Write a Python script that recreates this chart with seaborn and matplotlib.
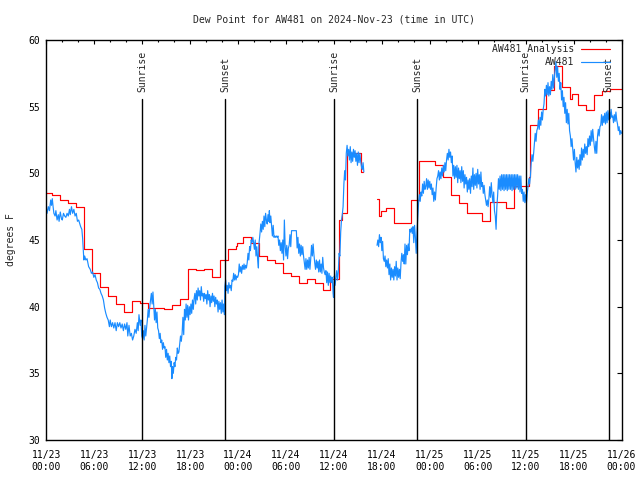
import numpy as np
import pandas as pd
import matplotlib
matplotlib.use("Agg")
import matplotlib.pyplot as plt
from matplotlib.lines import Line2D
from matplotlib.ticker import MultipleLocator
import seaborn as sns

# ---------------- data (hours since 2024-11-23 00:00 UTC) ----------------
title_text = "Dew Point for AW481 on 2024-Nov-23 (time in UTC)"
y_label = "degrees F"
series_names = ["AW481 Analysis", "AW481"]

x_tick_hours = [0, 6, 12, 18, 24, 30, 36, 42, 48, 54, 60, 66, 72]
x_tick_labels = ["11/23\n00:00", "11/23\n06:00", "11/23\n12:00", "11/23\n18:00",
                 "11/24\n00:00", "11/24\n06:00", "11/24\n12:00", "11/24\n18:00",
                 "11/25\n00:00", "11/25\n06:00", "11/25\n12:00", "11/25\n18:00",
                 "11/26\n00:00"]
y_ticks = [30, 35, 40, 45, 50, 55, 60]

sun_labels = ["Sunrise", "Sunset", "Sunrise", "Sunset", "Sunrise", "Sunset"]
sun_hours = [12.0, 22.4, 36.0, 46.4, 60.0, 70.4]

# analysis (step) series: start hour of each step and value
red_hours = [-0.3, 0.7, 1.7, 2.7, 3.7, 4.7, 5.7, 6.7, 7.7, 8.7, 9.7, 10.7, 11.7,
             12.7, 13.7, 14.7, 15.7, 16.7, 17.7, 18.7, 19.7, 20.7, 21.7, 22.7,
             23.7, 23.9, 24.6, 25.6, 26.6, 27.6, 28.6, 29.6, 30.6, 31.6, 32.6,
             33.6, 34.6, 35.5, 36.6, 37.0, 37.6, 39.4, 39.6,
             41.4, 41.6, 41.9, 42.5, 43.5, 45.7, 46.6, 48.6, 49.6, 50.6, 51.6,
             52.6, 54.6, 55.6, 57.5, 58.6, 60.4, 60.6, 61.5, 62.5, 63.6, 64.5,
             65.5, 65.8, 66.5, 67.5, 68.5, 69.5, 70.5, 72.0]
red_values = [48.5, 48.37, 48.0, 47.8, 47.5, 44.3, 42.5, 41.45, 40.8, 40.2, 39.6, 40.4, 40.25,
              39.9, 39.92, 39.8, 40.1, 40.55, 42.8, 42.75, 42.8, 42.2, 43.5, 44.3,
              44.55, 44.8, 45.2, 44.75, 43.8, 43.5, 43.3, 42.5, 42.3, 41.75, 42.1,
              41.8, 41.25, 42.05, 46.5, 47.05, 51.5, 50.1, np.nan,
              48.1, 46.8, 47.2, 47.4, 46.3, 48.0, 50.95, 50.6, 49.75, 48.4, 47.75,
              47.0, 46.45, 47.85, 47.4, 49.05, 49.75, 53.6, 54.8, 56.25, 58.05, 56.45,
              55.55, 55.95, 55.1, 54.75, 55.9, 56.2, 56.3, 56.3]

# observations (hour, dew point)
obs_day1 = [
    (0.0, 47.4), (0.1, 47.0), (0.25, 47.5), (0.4, 47.2), (0.55, 48.0), (0.65, 47.6), (0.75, 48.1),
    (0.85, 47.5), (0.95, 47.0), (1.1, 46.8), (1.2, 47.2), (1.35, 46.5), (1.5, 46.9), (1.6, 46.4),
    (1.75, 47.1), (1.9, 46.6), (2.0, 46.5), (2.15, 47.0), (2.3, 46.8), (2.45, 46.7), (2.6, 47.0),
    (2.75, 46.8), (2.9, 47.3), (3.0, 46.9), (3.15, 47.5), (3.3, 47.0), (3.45, 47.3), (3.6, 46.8),
    (3.75, 47.0), (3.9, 46.4), (4.05, 46.5), (4.2, 46.2), (4.3, 46.0), (4.45, 45.8), (4.55, 45.1),
    (4.65, 44.0), (4.7, 43.5), (4.8, 43.8), (4.95, 43.5), (5.1, 43.6), (5.3, 43.0), (5.5, 42.8),
    (5.65, 42.5), (5.8, 42.6), (5.95, 42.2), (6.1, 42.4), (6.25, 42.0), (6.4, 41.8), (6.55, 41.4),
    (6.7, 41.3), (6.85, 41.0), (7.0, 40.8), (7.15, 40.5), (7.3, 39.9), (7.45, 39.5), (7.6, 39.2),
    (7.75, 39.0), (7.9, 38.5), (8.0, 39.0), (8.15, 38.5), (8.3, 38.8), (8.45, 38.4), (8.6, 38.8),
    (8.75, 38.2), (8.9, 38.8), (9.05, 38.5), (9.2, 38.8), (9.35, 38.4), (9.5, 38.7), (9.65, 38.2),
    (9.8, 38.7), (9.95, 38.3), (10.1, 38.8), (10.2, 37.8), (10.35, 38.6), (10.5, 37.8), (10.65, 38.0),
    (10.8, 37.5), (10.95, 37.8), (11.1, 38.3), (11.25, 38.0), (11.4, 38.8), (11.5, 38.2), (11.6, 39.4),
    (11.75, 38.6), (11.85, 39.0), (11.95, 37.8),
]
obs_day1_pm = [
    (12.05, 37.6), (12.15, 38.2), (12.25, 37.5), (12.35, 38.6), (12.45, 37.8), (12.55, 38.4),
    (12.65, 39.0), (12.75, 39.8), (12.85, 39.2), (12.95, 40.0), (13.05, 40.5), (13.15, 41.0),
    (13.25, 40.2), (13.35, 41.1), (13.45, 40.0), (13.55, 39.0), (13.65, 39.8), (13.75, 38.8),
    (13.85, 39.6), (13.95, 38.4), (14.05, 38.2), (14.15, 37.6), (14.25, 38.0), (14.35, 37.3),
    (14.45, 37.5), (14.55, 36.8), (14.65, 37.3), (14.75, 36.9), (14.85, 37.0), (14.95, 36.2),
    (15.05, 36.8), (15.15, 36.0), (15.25, 36.5), (15.35, 35.8), (15.45, 36.3), (15.55, 35.5),
    (15.65, 35.9), (15.72, 34.6), (15.8, 35.5), (15.9, 35.0), (16.0, 35.8), (16.1, 35.5),
    (16.2, 36.2), (16.3, 36.0), (16.4, 36.9), (16.5, 36.5), (16.6, 36.6), (16.7, 37.2),
    (16.8, 37.8), (16.9, 37.4), (17.0, 38.0), (17.1, 39.2), (17.2, 37.9), (17.3, 39.8),
    (17.4, 39.0), (17.5, 40.2), (17.6, 39.2), (17.7, 40.1), (17.8, 39.0), (17.9, 40.0),
    (18.0, 39.4), (18.1, 40.2), (18.2, 39.5), (18.3, 40.5), (18.4, 39.8), (18.5, 40.6),
    (18.6, 41.0), (18.7, 40.2), (18.8, 41.2), (18.9, 40.5), (19.0, 41.4), (19.1, 40.8),
    (19.2, 41.2), (19.3, 40.5), (19.4, 41.5), (19.5, 40.8), (19.6, 41.0), (19.7, 40.4),
    (19.8, 41.0), (19.9, 40.6), (20.0, 40.9), (20.1, 40.2), (20.2, 41.2), (20.3, 40.5),
    (20.4, 40.9), (20.5, 40.0), (20.6, 40.8), (20.7, 40.3), (20.8, 41.0), (20.9, 40.4),
    (21.0, 40.8), (21.1, 40.0), (21.2, 40.7), (21.3, 40.2), (21.4, 40.5), (21.5, 39.6),
    (21.6, 40.4), (21.7, 39.8), (21.8, 40.3), (21.9, 39.5), (22.0, 40.5), (22.1, 39.6),
    (22.2, 40.2), (22.3, 39.4), (22.35, 41.5), (22.45, 42.0), (22.55, 41.2), (22.65, 41.6),
    (22.75, 41.0), (22.85, 41.8), (22.95, 41.4), (23.05, 41.6), (23.15, 41.2), (23.25, 42.0),
    (23.35, 41.9), (23.45, 42.5), (23.55, 42.0), (23.65, 42.4), (23.75, 42.0), (23.85, 42.3),
    (23.95, 42.2),
]
obs_day2 = [
    (24.05, 42.4), (24.15, 43.2), (24.25, 42.6), (24.35, 43.0), (24.45, 42.5), (24.55, 43.1),
    (24.65, 42.8), (24.75, 43.2), (24.85, 42.8), (24.95, 43.1), (25.05, 42.9), (25.15, 43.3),
    (25.25, 44.0), (25.35, 43.5), (25.45, 44.5), (25.55, 44.2), (25.65, 45.0), (25.75, 44.8),
    (25.85, 45.2), (25.95, 44.8), (26.05, 44.3), (26.15, 45.0), (26.25, 43.8), (26.35, 44.5),
    (26.45, 43.6), (26.55, 42.9), (26.6, 44.6), (26.75, 45.5), (26.85, 46.2), (26.95, 45.6),
    (27.05, 46.4), (27.15, 45.8), (27.25, 46.8), (27.35, 46.0), (27.45, 47.0), (27.55, 46.5),
    (27.65, 46.2), (27.75, 46.9), (27.85, 46.4), (27.92, 47.2), (28.0, 46.3), (28.1, 46.8),
    (28.2, 46.0), (28.3, 45.3), (28.4, 46.1), (28.5, 45.2), (28.6, 45.3), (28.7, 45.2),
    (28.8, 45.3), (28.9, 45.2), (29.0, 45.3), (29.1, 44.6), (29.2, 45.0), (29.3, 44.2),
    (29.4, 44.8), (29.5, 44.0), (29.6, 45.0), (29.7, 43.5), (29.8, 46.5), (29.9, 44.5),
    (30.0, 43.8), (30.1, 44.6), (30.2, 43.6), (30.3, 44.4), (30.4, 44.6), (30.5, 45.4),
    (30.6, 44.5), (30.7, 45.7), (30.9, 45.7), (31.1, 45.7), (31.3, 45.7), (31.4, 44.4),
    (31.5, 45.2), (31.6, 44.0), (31.7, 44.7), (31.8, 43.8), (31.9, 44.6), (32.0, 43.9),
    (32.1, 44.5), (32.2, 43.8), (32.3, 43.3), (32.4, 42.8), (32.5, 43.6), (32.6, 42.8),
    (32.7, 43.5), (32.8, 42.9), (32.9, 43.7), (33.0, 42.8), (33.1, 43.6), (33.2, 44.6),
    (33.3, 43.8), (33.4, 44.7), (33.5, 43.9), (33.6, 43.3), (33.7, 42.8), (33.8, 43.5),
    (33.9, 42.9), (34.0, 43.4), (34.1, 42.6), (34.2, 43.5), (34.3, 42.6), (34.4, 43.2),
    (34.5, 42.5), (34.6, 43.7), (34.7, 42.9), (34.8, 42.6), (34.9, 42.4), (35.0, 42.7),
    (35.1, 41.8), (35.2, 42.6), (35.3, 41.6), (35.4, 42.5), (35.5, 41.8), (35.6, 42.3),
    (35.7, 41.8), (35.8, 42.2), (35.9, 41.0), (35.95, 40.7), (36.05, 42.3), (36.15, 41.6),
    (36.25, 42.2), (36.35, 42.7), (36.45, 42.0), (36.55, 42.6), (36.65, 44.0), (36.75, 43.8),
    (36.85, 45.6), (36.95, 46.5), (37.05, 46.9), (37.15, 47.5), (37.25, 49.2), (37.35, 50.2),
    (37.45, 49.5), (37.55, 51.5), (37.65, 52.1), (37.75, 51.3), (37.85, 51.8), (37.95, 51.0),
    (38.05, 52.0), (38.15, 50.8), (38.25, 51.6), (38.35, 50.9), (38.45, 51.8), (38.55, 51.2),
    (38.65, 51.7), (38.75, 50.9), (38.85, 51.5), (38.95, 50.6), (39.05, 51.6), (39.15, 50.8),
    (39.25, 51.5), (39.35, 50.9), (39.45, 50.5), (39.55, 50.3), (39.65, 50.8), (39.75, 50.1),
]
obs_day2_pm = [
    (41.4, 44.6), (41.5, 45.0), (41.6, 44.5), (41.7, 45.4), (41.8, 44.8), (41.9, 45.2),
    (42.0, 44.2), (42.1, 44.9), (42.2, 43.6), (42.3, 43.4), (42.4, 43.8), (42.5, 43.0),
    (42.6, 43.5), (42.7, 42.9), (42.8, 43.6), (42.9, 42.4), (43.0, 43.2), (43.1, 42.0),
    (43.2, 42.9), (43.3, 42.2), (43.4, 42.8), (43.5, 42.0), (43.6, 43.0), (43.7, 42.3),
    (43.8, 43.4), (43.9, 42.0), (44.0, 42.9), (44.1, 42.2), (44.2, 42.8), (44.3, 42.1),
    (44.4, 43.3), (44.5, 44.0), (44.6, 43.4), (44.7, 43.9), (44.8, 43.2), (44.9, 44.7),
    (45.0, 43.2), (45.1, 44.6), (45.2, 43.9), (45.3, 44.7), (45.4, 44.2), (45.5, 45.8),
    (45.6, 45.6), (45.7, 45.9), (45.8, 45.5), (45.9, 46.0), (46.0, 44.8), (46.1, 46.1),
    (46.2, 45.2), (46.3, 44.0), (46.4, 45.6), (46.5, 46.7), (46.6, 47.8), (46.7, 48.4),
    (46.8, 47.9), (46.9, 48.6), (47.0, 48.3), (47.1, 49.2), (47.2, 48.5), (47.3, 49.4),
    (47.4, 48.8), (47.5, 49.0), (47.6, 49.6), (47.7, 48.8), (47.8, 49.5), (47.9, 48.9),
]
obs_day3 = [
    (48.0, 49.4), (48.1, 48.8), (48.2, 49.2), (48.3, 48.4), (48.4, 48.9), (48.5, 47.9),
    (48.6, 48.6), (48.7, 48.0), (48.8, 48.9), (48.9, 49.6), (49.0, 49.8), (49.1, 50.2),
    (49.2, 49.5), (49.3, 50.1), (49.4, 49.6), (49.5, 50.4), (49.6, 49.8), (49.7, 50.6),
    (49.8, 50.1), (49.9, 50.8), (50.0, 50.2), (50.1, 51.0), (50.2, 51.5), (50.3, 51.0),
    (50.4, 51.8), (50.5, 51.2), (50.6, 51.6), (50.7, 50.8), (50.8, 51.3), (50.9, 49.8),
    (51.0, 50.6), (51.1, 49.6), (51.2, 50.5), (51.3, 49.7), (51.4, 50.6), (51.5, 49.3),
    (51.6, 50.4), (51.7, 49.6), (51.8, 50.2), (51.9, 49.3), (52.0, 50.5), (52.1, 49.4),
    (52.2, 50.2), (52.3, 48.9), (52.4, 49.9), (52.5, 49.2), (52.6, 49.7), (52.7, 48.6),
    (52.8, 49.5), (52.9, 48.8), (53.0, 49.6), (53.1, 48.5), (53.2, 49.8), (53.3, 49.0),
    (53.4, 50.4), (53.5, 48.8), (53.6, 49.9), (53.7, 49.1), (53.8, 50.0), (53.9, 48.9),
    (54.0, 50.3), (54.1, 49.2), (54.2, 49.9), (54.3, 48.8), (54.4, 50.1), (54.5, 49.0),
    (54.6, 49.3), (54.7, 48.5), (54.8, 49.1), (54.9, 48.4), (55.0, 48.0), (55.1, 47.6),
    (55.2, 48.0), (55.3, 47.5), (55.4, 48.1), (55.5, 49.0), (55.6, 48.2), (55.7, 49.3),
    (55.8, 48.4), (55.9, 47.8), (56.0, 48.6), (56.1, 47.2), (56.2, 46.8), (56.3, 45.8),
    (56.4, 47.5), (56.5, 48.4), (56.6, 49.6), (56.7, 48.8), (56.8, 49.8), (56.9, 48.7),
    (57.0, 49.9), (57.1, 48.8), (57.2, 49.9), (57.3, 48.7), (57.4, 49.9), (57.5, 48.8),
    (57.6, 49.9), (57.7, 48.7), (57.8, 49.9), (57.9, 48.8), (58.0, 49.9), (58.1, 48.8),
    (58.2, 49.9), (58.3, 48.7), (58.4, 49.9), (58.5, 48.8), (58.6, 49.9), (58.7, 48.8),
    (58.8, 49.9), (58.9, 48.9), (59.0, 49.9), (59.1, 48.8), (59.2, 49.8), (59.3, 48.6),
    (59.4, 49.8), (59.5, 48.5), (59.6, 48.8), (59.7, 47.9), (59.8, 48.6), (59.9, 47.8),
    (60.0, 48.4), (60.1, 47.8), (60.2, 48.5), (60.3, 49.0), (60.4, 49.6), (60.5, 49.2),
    (60.6, 49.8), (60.7, 50.8), (60.8, 51.4), (60.9, 50.9), (61.0, 51.5), (61.1, 52.3),
    (61.2, 53.0), (61.3, 52.4), (61.4, 53.2), (61.5, 53.4), (61.6, 54.0), (61.7, 53.3),
    (61.8, 54.2), (61.9, 53.6), (62.0, 54.6), (62.1, 54.0), (62.2, 54.8), (62.3, 55.2),
    (62.4, 56.3), (62.5, 55.8), (62.6, 56.6), (62.7, 55.9), (62.8, 56.8), (62.9, 55.8),
    (63.0, 56.5), (63.1, 55.9), (63.2, 56.9), (63.3, 56.3), (63.4, 57.4), (63.5, 56.4),
    (63.6, 57.2), (63.7, 57.8), (63.8, 58.4), (63.9, 57.2), (64.0, 58.0), (64.1, 56.9),
    (64.2, 57.5), (64.3, 56.3), (64.4, 56.8), (64.5, 55.5), (64.6, 56.2), (64.7, 55.0),
    (64.8, 55.7), (64.9, 54.5), (65.0, 55.3), (65.1, 53.8), (65.2, 54.8), (65.3, 53.7),
    (65.4, 54.5), (65.5, 53.2), (65.6, 52.8), (65.7, 52.0), (65.8, 52.6), (65.9, 51.8),
    (66.0, 51.0), (66.1, 51.8), (66.2, 50.8), (66.3, 50.1), (66.4, 51.2), (66.5, 50.4),
    (66.6, 51.0), (66.7, 50.3), (66.8, 51.4), (66.9, 50.6), (67.0, 51.9), (67.1, 51.0),
    (67.2, 51.8), (67.3, 51.2), (67.4, 52.2), (67.5, 51.5), (67.6, 52.0), (67.7, 51.4),
    (67.8, 52.6), (67.9, 52.0), (68.0, 52.8), (68.1, 52.1), (68.2, 53.2), (68.3, 52.4),
    (68.4, 53.3), (68.5, 52.6), (68.6, 52.0), (68.7, 51.5), (68.8, 52.4), (68.9, 51.5),
    (69.0, 52.8), (69.1, 53.3), (69.2, 52.8), (69.3, 53.5), (69.4, 53.6), (69.5, 54.4),
    (69.6, 53.6), (69.7, 54.3), (69.8, 53.8), (69.9, 54.5), (70.0, 53.7), (70.1, 54.6),
    (70.2, 53.8), (70.3, 54.7), (70.4, 54.0), (70.5, 54.6), (70.6, 54.1), (70.7, 54.8),
    (70.8, 54.2), (70.9, 54.3), (71.0, 53.8), (71.1, 54.4), (71.2, 53.9), (71.3, 54.6),
    (71.4, 54.0), (71.5, 53.7), (71.6, 53.2), (71.7, 53.5), (71.8, 52.9), (71.9, 53.2),
    (72.0, 53.0),
]

# ---------------- build tables ----------------
red_df = pd.DataFrame({"hour": red_hours, "value": red_values})
obs_seg1 = pd.DataFrame(obs_day1 + obs_day1_pm + obs_day2, columns=["hour", "value"])
obs_seg2 = pd.DataFrame(obs_day2_pm + obs_day3, columns=["hour", "value"])

RED = "#ff0000"
BLUE = "#1a8cff"
FONT = 7
LW = 0.85

sns.set_theme(style="white")
plt.rcParams["font.family"] = ["DejaVu Sans Mono", "DejaVu Sans"]
plt.rcParams["font.size"] = FONT

fig = plt.figure(figsize=(6.4, 4.8), dpi=100)
ax = fig.add_axes([46.3 / 640, 40 / 480, (621.5 - 46.3) / 640, 400 / 480])

# analysis step line, split at the gap
gap_idx = int(np.where(red_df["value"].isna())[0][0])
first = red_df.iloc[:gap_idx]
first_ext = pd.concat([first, pd.DataFrame({"hour": [red_df["hour"].iloc[gap_idx]],
                                            "value": [first["value"].iloc[-1]]})])
second = red_df.iloc[gap_idx + 1:]
for seg in (first_ext, second):
    sns.lineplot(data=seg, x="hour", y="value", ax=ax, color=RED, lw=LW,
                 drawstyle="steps-post", estimator=None, sort=False)

for seg in (obs_seg1, obs_seg2):
    sns.lineplot(data=seg, x="hour", y="value", ax=ax, color=BLUE, lw=LW,
                 estimator=None, sort=False)

# sunrise / sunset markers
line_top = (440 - 99) / 400
text_bottom = (440 - 92) / 400
for lab, h in zip(sun_labels, sun_hours):
    ax.axvline(h, ymin=0, ymax=line_top, color="black", lw=1.0)
    ax.text(h, text_bottom, lab, rotation=90, ha="center", va="bottom",
            fontsize=FONT, transform=ax.get_xaxis_transform())

ax.set_xlim(0, 72)
ax.set_ylim(30, 60)
ax.set_xticks(x_tick_hours)
ax.set_xticklabels(x_tick_labels)
ax.xaxis.set_minor_locator(MultipleLocator(2))
ax.set_yticks(y_ticks)
ax.set_xlabel("")
ax.set_ylabel("")

ax.tick_params(axis="both", which="both", direction="in", top=True, right=True,
               colors="black", labelsize=FONT, width=0.8)
ax.tick_params(axis="x", which="major", length=3.2, pad=7.5)
ax.tick_params(axis="x", which="minor", length=1.7)
ax.tick_params(axis="y", which="major", length=3.6, pad=4.5)
for sp in ax.spines.values():
    sp.set_color("black")
    sp.set_linewidth(1.0)

fig.text(334 / 640, 1 - 20 / 480, title_text, ha="center", va="center", fontsize=FONT)
fig.text(11 / 640, 1 - 240 / 480, y_label, ha="center", va="center", rotation=90,
         fontsize=FONT)

handles = [Line2D([], [], color=RED, lw=LW), Line2D([], [], color=BLUE, lw=LW)]
ax.legend(handles, series_names, loc="upper right", markerfirst=False, frameon=False,
          fontsize=FONT, handlelength=3.0, handletextpad=0.7, labelspacing=0.35,
          borderpad=0, borderaxespad=0,
          bbox_to_anchor=((610 - 46.3) / 575.2, (440 - 44) / 400))

fig.savefig("out.png", dpi=100, facecolor="white")
